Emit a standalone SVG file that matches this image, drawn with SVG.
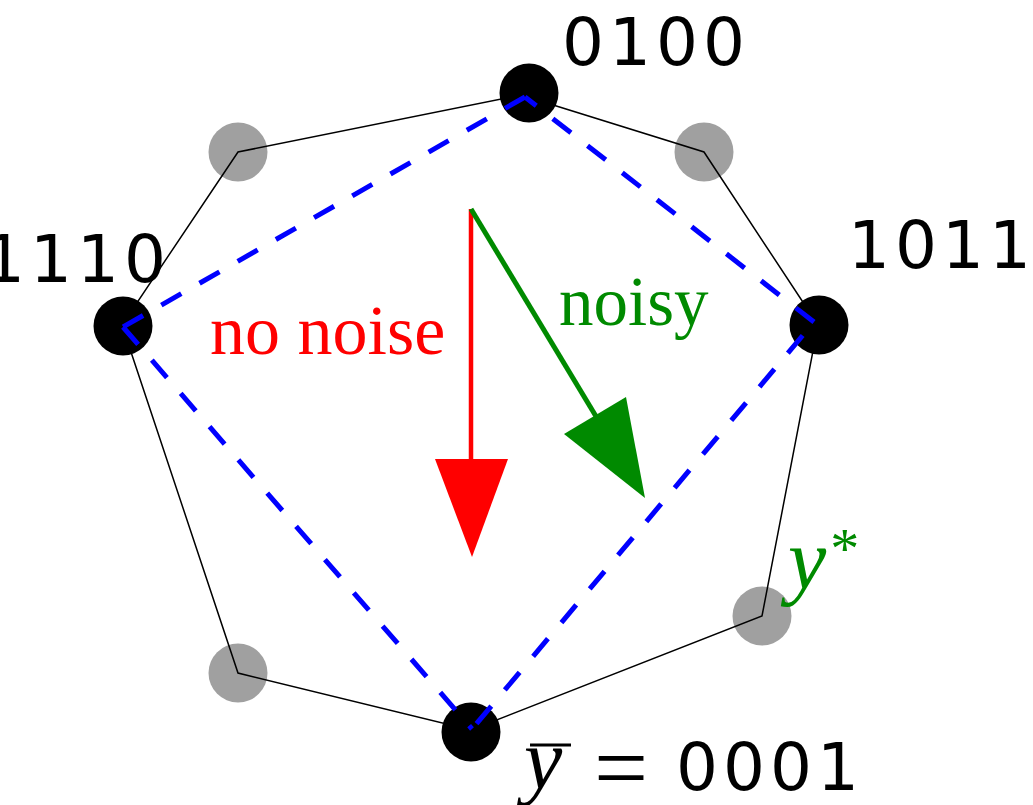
<svg xmlns="http://www.w3.org/2000/svg" width="1033" height="805" viewBox="0 0 1033 805">
<style>
.lbl{font-family:"DejaVu Sans",sans-serif;font-size:66px;fill:#000;letter-spacing:5px}
.serif{font-family:"Liberation Serif",serif}
.poly{fill:none;stroke:#000;stroke-width:1.5}
.dash{fill:none;stroke:#0000ff;stroke-width:5;stroke-dasharray:23 21}
.blk{fill:#000}
.gry{fill:#a0a0a0}
</style>
<rect width="1033" height="805" fill="#fff"/>
<g id="nodes">
<g id="n0100"><circle class="blk" cx="529" cy="93" r="29.5"/></g>
<g id="g_tr"><circle class="gry" cx="704" cy="152" r="29.5"/></g>
<g id="n1011"><circle class="blk" cx="819" cy="325" r="29.5"/></g>
<g id="g_br"><circle class="gry" cx="762" cy="616" r="29.5"/></g>
<g id="n0001"><circle class="blk" cx="471" cy="732" r="29.5"/></g>
<g id="g_bl"><circle class="gry" cx="238" cy="673" r="29.5"/></g>
<g id="n1110"><circle class="blk" cx="123" cy="326" r="29.5"/></g>
<g id="g_tl"><circle class="gry" cx="238" cy="152" r="29.5"/></g>
</g>
<g id="connectors">
<polygon class="poly" points="521,95 704,152 818,325 762,616 471,730 238,673 122,325 238,152"/>
<line class="dash" x1="525" y1="97" x2="123" y2="327"/>
<line class="dash" x1="123" y1="327" x2="472" y2="729"/>
<line class="dash" x1="472" y1="729" x2="814" y2="322" stroke-dashoffset="-7"/>
<line class="dash" x1="814" y1="322" x2="525" y2="97"/>
<line x1="471" y1="209" x2="471" y2="462" stroke="#ff0000" stroke-width="4.5"/>
<polygon points="435,459 508,459 472,557" fill="#ff0000"/>
<line x1="471" y1="209" x2="597" y2="418" stroke="#008a00" stroke-width="5"/>
<polygon points="564,434 626,397 645,498" fill="#008a00"/>
</g>
<g id="labels">
<text class="lbl" x="562" y="65">0100</text>
<text class="lbl" x="-17" y="282">1110</text>
<text class="lbl" x="848" y="268">1011</text>
<text class="serif" x="210" y="354" font-size="70" fill="#ff0000">no noise</text>
<text class="serif" x="559" y="325" font-size="69" fill="#008a00">noisy</text>
<text class="serif" x="788" y="588" font-size="86" font-style="italic" fill="#008a00">y<tspan font-size="58" font-style="normal" dx="4" dy="-20">*</tspan></text>
<line x1="530" y1="745" x2="571" y2="745" stroke="#000" stroke-width="3"/>
<text x="524" y="788" font-size="86"><tspan class="serif" font-style="italic">y</tspan><tspan class="serif" font-size="96" x="594" y="800">=</tspan><tspan font-family="DejaVu Sans, sans-serif" font-size="66" letter-spacing="5" x="676" y="790">0001</tspan></text>
</g>
</svg>
